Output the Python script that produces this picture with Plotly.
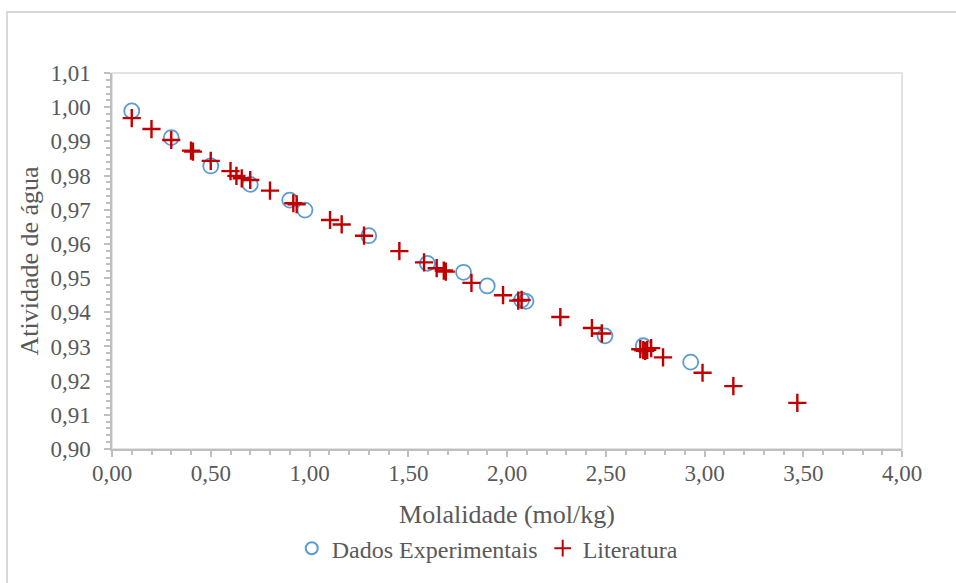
import plotly.graph_objects as go

# Dados Experimentais
exp_x = [0.10, 0.30, 0.50, 0.70, 0.90, 0.977, 1.30, 1.597, 1.78, 1.90, 2.074, 2.096, 2.496, 2.69, 2.93]
exp_y = [0.9989, 0.9911, 0.9828, 0.9774, 0.9728, 0.9699, 0.9624, 0.9543, 0.9517, 0.9477, 0.9436, 0.9432, 0.9331, 0.9302, 0.9254]

# Literatura
lit_x = [0.10, 0.20, 0.30, 0.40, 0.41, 0.50, 0.60, 0.63, 0.657, 0.70, 0.80, 0.918, 0.935,
         1.104, 1.163, 1.276, 1.455, 1.58, 1.644, 1.68, 1.69, 1.82, 1.98, 2.057, 2.074,
         2.27, 2.43, 2.48, 2.675, 2.69, 2.70, 2.71, 2.73, 2.79, 2.99, 3.146, 3.47]
lit_y = [0.9968, 0.9936, 0.9904, 0.9873, 0.9870, 0.9843, 0.9813, 0.9799, 0.9792, 0.9787, 0.9756, 0.9719, 0.9716,
         0.9670, 0.9657, 0.9624, 0.9579, 0.9546, 0.9529, 0.9522, 0.9519, 0.9486, 0.9450, 0.9434, 0.9436,
         0.9386, 0.9354, 0.9338, 0.9292, 0.9289, 0.9287, 0.9290, 0.9295, 0.9268, 0.9223, 0.9184, 0.9135]

x_ticks = [0, 0.5, 1.0, 1.5, 2.0, 2.5, 3.0, 3.5, 4.0]
y_ticks = [0.90, 0.91, 0.92, 0.93, 0.94, 0.95, 0.96, 0.97, 0.98, 0.99, 1.00, 1.01]

def fmt(v, d):
    return f"{v:.{d}f}".replace(".", ",")

FONT = "Liberation Serif"
TXT = "#595959"
AX = "#bfbfbf"

fig = go.Figure()
fig.add_trace(go.Scatter(
    x=exp_x, y=exp_y, mode="markers", name="Dados Experimentais",
    marker=dict(symbol="circle-open", size=15, color="#5B9BD5", line=dict(width=1.8, color="#5B9BD5")),
))
fig.add_trace(go.Scatter(
    x=lit_x, y=lit_y, mode="markers", name="Literatura",
    marker=dict(symbol="cross-thin-open", size=13, color="#C00000", line=dict(width=2.4, color="#C00000")),
))

fig.update_layout(
    width=956, height=583,
    margin=dict(l=112, r=54, t=73, b=134),
    paper_bgcolor="white", plot_bgcolor="white",
    font=dict(family=FONT, color=TXT, size=23),
    showlegend=True,
    legend=dict(orientation="h", x=0.475, xanchor="center", y=-0.205, yanchor="top",
                font=dict(family=FONT, size=24, color=TXT), itemsizing="constant",
                itemwidth=30, tracegroupgap=0),
    xaxis=dict(
        range=[0, 4], tickvals=x_ticks, ticktext=[fmt(v, 2) for v in x_ticks],
        showgrid=False, zeroline=False, showline=True, linecolor=AX, linewidth=1.5,
        ticks="outside", ticklen=6, tickcolor=AX, tickwidth=1.5,
        minor=dict(dtick=0.1, ticks="outside", ticklen=4, tickcolor=AX, tickwidth=1.5, showgrid=False),
        tickfont=dict(family=FONT, size=23, color=TXT), ticklabelstandoff=-3,
        title=dict(text="Molalidade (mol/kg)", font=dict(family=FONT, size=26, color=TXT), standoff=19),
    ),
    yaxis=dict(
        range=[0.90, 1.01], tickvals=y_ticks, ticktext=[fmt(v, 2) for v in y_ticks],
        showgrid=False, zeroline=False, showline=True, linecolor=AX, linewidth=1.5,
        ticks="outside", ticklen=6, tickcolor=AX, tickwidth=1.5,
        minor=dict(dtick=0.002, ticks="outside", ticklen=4, tickcolor=AX, tickwidth=1.5, showgrid=False),
        tickfont=dict(family=FONT, size=23, color=TXT), ticklabelstandoff=9,
        title=dict(text="Atividade de água", font=dict(family=FONT, size=26, color=TXT), standoff=4),
    ),
    shapes=[
        dict(type="rect", xref="paper", yref="paper", x0=0, x1=1, y0=0, y1=1,
             line=dict(color="#e3e3e3", width=2), layer="below"),
        dict(type="rect", xref="paper", yref="paper", x0=-0.1329, x1=1.2, y0=-0.40, y1=1.162,
             line=dict(color="#d9d9d9", width=2), layer="below"),
    ],
)

fig.write_html("out.html")
